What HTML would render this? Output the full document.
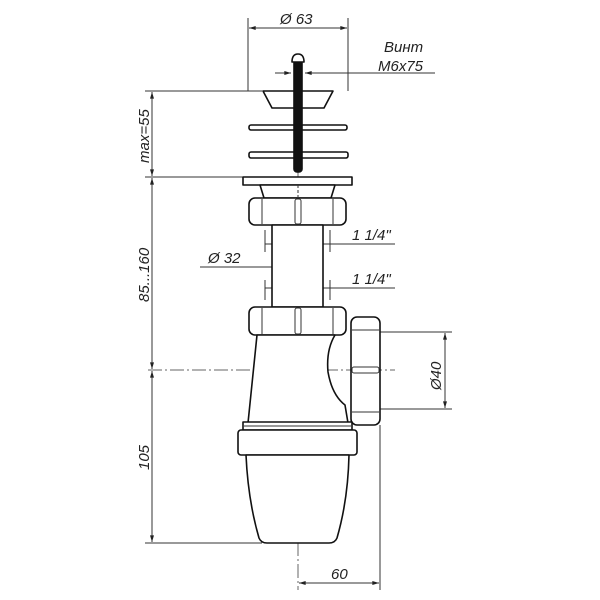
<!DOCTYPE html>
<html><head><meta charset="utf-8"><style>
html,body{margin:0;padding:0;background:#fff;}
svg{display:block;}
text{font-family:"Liberation Sans",sans-serif;font-style:italic;font-size:15px;fill:#222;}
</style></head><body>
<svg width="600" height="600" viewBox="0 0 600 600" xmlns="http://www.w3.org/2000/svg">
<defs>
<marker id="a" viewBox="0 0 10 6" refX="10" refY="3" markerWidth="8" markerHeight="4" orient="auto-start-reverse"><path d="M0,0 L10,3 L0,6 z" fill="#222"/></marker>
</defs>
<g stroke="#333" stroke-width="1" fill="none">
<line x1="298" y1="80" x2="298" y2="590" stroke-dasharray="14,3,2,3" stroke="#666"/>
<line x1="148" y1="370" x2="395" y2="370" stroke-dasharray="14,3,2,3" stroke="#666"/>
<line x1="248" y1="18" x2="248" y2="91"/>
<line x1="348" y1="18" x2="348" y2="91"/>
<line x1="249" y1="28" x2="347" y2="28" marker-start="url(#a)" marker-end="url(#a)"/>
<line x1="275" y1="73" x2="291" y2="73" marker-end="url(#a)"/>
<line x1="320" y1="73" x2="305" y2="73" marker-end="url(#a)"/>
<line x1="320" y1="73" x2="435" y2="73"/>
<line x1="145" y1="91" x2="262" y2="91"/>
<line x1="145" y1="177" x2="243" y2="177"/>
<line x1="145" y1="543" x2="262" y2="543"/>
<line x1="152" y1="92" x2="152" y2="176" marker-start="url(#a)" marker-end="url(#a)"/>
<line x1="152" y1="178" x2="152" y2="369" marker-start="url(#a)" marker-end="url(#a)"/>
<line x1="152" y1="371" x2="152" y2="542" marker-start="url(#a)" marker-end="url(#a)"/>
<line x1="200" y1="267" x2="272" y2="267"/>
<line x1="273" y1="267" x2="322" y2="267" marker-start="url(#a)" marker-end="url(#a)"/>
<line x1="265" y1="244" x2="395" y2="244"/>
<line x1="265" y1="288" x2="395" y2="288"/>
<line x1="265" y1="230" x2="265" y2="252"/><line x1="330" y1="230" x2="330" y2="252"/>
<line x1="265" y1="280" x2="265" y2="300"/><line x1="330" y1="280" x2="330" y2="300"/>
<line x1="380" y1="332" x2="452" y2="332"/>
<line x1="380" y1="409" x2="452" y2="409"/>
<line x1="445" y1="333" x2="445" y2="408" marker-start="url(#a)" marker-end="url(#a)"/>
<line x1="380" y1="425" x2="380" y2="590"/>
<line x1="299" y1="583" x2="379" y2="583" marker-start="url(#a)" marker-end="url(#a)"/>
</g>
<g stroke="#111" stroke-width="1.6" fill="#fff" stroke-linejoin="round">
<path d="M263,91 L333,91 L324,108 L272,108 Z"/>
<rect x="249" y="125" width="98" height="5" rx="2"/>
<rect x="249" y="152" width="99" height="6" rx="2"/>
<rect x="294" y="60" width="8" height="112" rx="3" fill="#111"/>
<path d="M292,62 Q292,54 298,54 Q304,54 304,62 Z"/>
<rect x="243" y="177" width="109" height="8"/>
<path d="M260,185 L335,185 L331,198 L264,198 Z"/>
<rect x="249" y="198" width="97" height="27" rx="6"/>
<rect x="272" y="225" width="51" height="82"/>
<rect x="249" y="307" width="97" height="28" rx="6"/>
<path d="M257,335 L335,335 Q326,350 328,372 Q332,395 345,405 L348,423 L248,423 Z"/>
<rect x="351" y="317" width="29" height="108" rx="6"/>
<rect x="243" y="422" width="109" height="8"/>
<rect x="238" y="430" width="119" height="25" rx="3"/>
<path d="M246,455 L349,455 Q348,500 337,538 Q335,543 329,543 L267,543 Q261,543 259,538 Q248,500 246,455 Z"/>
</g>
<g stroke="#333" stroke-width="1" fill="none">
<line x1="262" y1="199" x2="262" y2="224"/><line x1="333" y1="199" x2="333" y2="224"/>
<rect x="295" y="199" width="6" height="25" rx="2"/>
<line x1="262" y1="308" x2="262" y2="334"/><line x1="333" y1="308" x2="333" y2="334"/>
<rect x="295" y="308" width="6" height="26" rx="2"/>
<line x1="352" y1="330" x2="379" y2="330"/><line x1="352" y1="412" x2="379" y2="412"/>
<rect x="352" y="367" width="27" height="6" rx="2"/>
<line x1="244" y1="426" x2="351" y2="426"/>
<line x1="298" y1="185" x2="298" y2="198" stroke-dasharray="3,2"/>
</g>
<text x="280" y="24" font-size="16">Ø 63</text>
<text x="384" y="52">Винт</text>
<text x="378" y="71">M6x75</text>
<text x="208" y="263" font-size="16">Ø 32</text>
<text x="352" y="240" font-size="16">1 1/4"</text>
<text x="352" y="284" font-size="16">1 1/4"</text>
<text x="331" y="579" font-size="16">60</text>
<text transform="translate(149,163) rotate(-90)" font-size="15">max=55</text>
<text transform="translate(149,302) rotate(-90)" font-size="16">85...160</text>
<text transform="translate(149,470) rotate(-90)" font-size="16">105</text>
<text transform="translate(441,390) rotate(-90)" font-size="16">Ø40</text>
</svg>
</body></html>
